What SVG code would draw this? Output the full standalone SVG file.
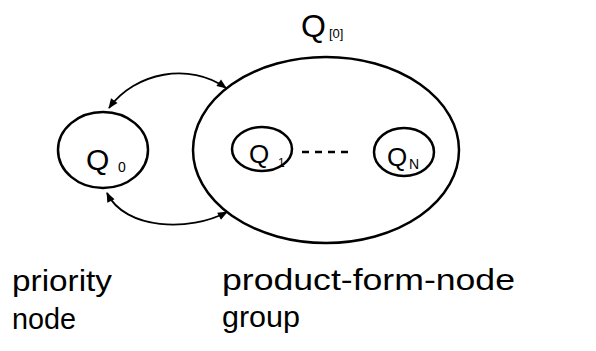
<svg xmlns="http://www.w3.org/2000/svg" width="596" height="351" viewBox="0 0 596 351">
<style>
.n{fill:none;stroke:#000;stroke-width:2.5}
.c{fill:none;stroke:#000;stroke-width:1.8}
.t{font-family:"Liberation Sans",Arial,sans-serif;fill:#000}
</style>
<defs>
<marker id="ah" viewBox="0 0 10 10" refX="9" refY="5" markerWidth="12" markerHeight="10" markerUnits="userSpaceOnUse" orient="auto-start-reverse">
<path d="M0,1 L10,5 L0,9 Z" fill="#000"/>
</marker>
</defs>
<rect width="596" height="351" fill="#fff"/>
<g id="connectors">
<path class="c" d="M109,108 C135,72 190,62 226,88" marker-start="url(#ah)" marker-end="url(#ah)"/>
<path class="c" d="M107,193 C125,230 190,232 227,212" marker-start="url(#ah)" marker-end="url(#ah)"/>
<line x1="302" y1="152" x2="348" y2="152" stroke="#000" stroke-width="2.5" stroke-dasharray="7,6"/>
</g>
<g id="Q0">
<ellipse class="n" cx="103" cy="150" rx="45" ry="38"/>
<text class="t" x="86" y="170" font-size="30">Q</text>
<text class="t" x="118" y="172" font-size="14">0</text>
</g>
<g id="Qgroup">
<ellipse class="n" cx="326" cy="150" rx="133" ry="93"/>
<text class="t" x="301" y="37" font-size="32">Q</text>
<text class="t" x="329" y="38" font-size="13">[0]</text>
</g>
<g id="Q1">
<ellipse class="n" cx="262" cy="149" rx="30" ry="22"/>
<text class="t" x="249" y="163" font-size="26">Q</text>
<text class="t" x="278" y="167" font-size="12">1</text>
</g>
<g id="QN">
<ellipse class="n" cx="404" cy="152" rx="30" ry="24"/>
<text class="t" x="387" y="166" font-size="26">Q</text>
<text class="t" x="409" y="169" font-size="14">N</text>
</g>
<g id="labels">
<text class="t" x="12" y="291" font-size="29" textLength="100" lengthAdjust="spacingAndGlyphs">priority</text>
<text class="t" x="12" y="329" font-size="29" textLength="64" lengthAdjust="spacingAndGlyphs">node</text>
<text class="t" x="222" y="290" font-size="29" textLength="293" lengthAdjust="spacingAndGlyphs">product-form-node</text>
<text class="t" x="222" y="327" font-size="29" textLength="78" lengthAdjust="spacingAndGlyphs">group</text>
</g>
</svg>
